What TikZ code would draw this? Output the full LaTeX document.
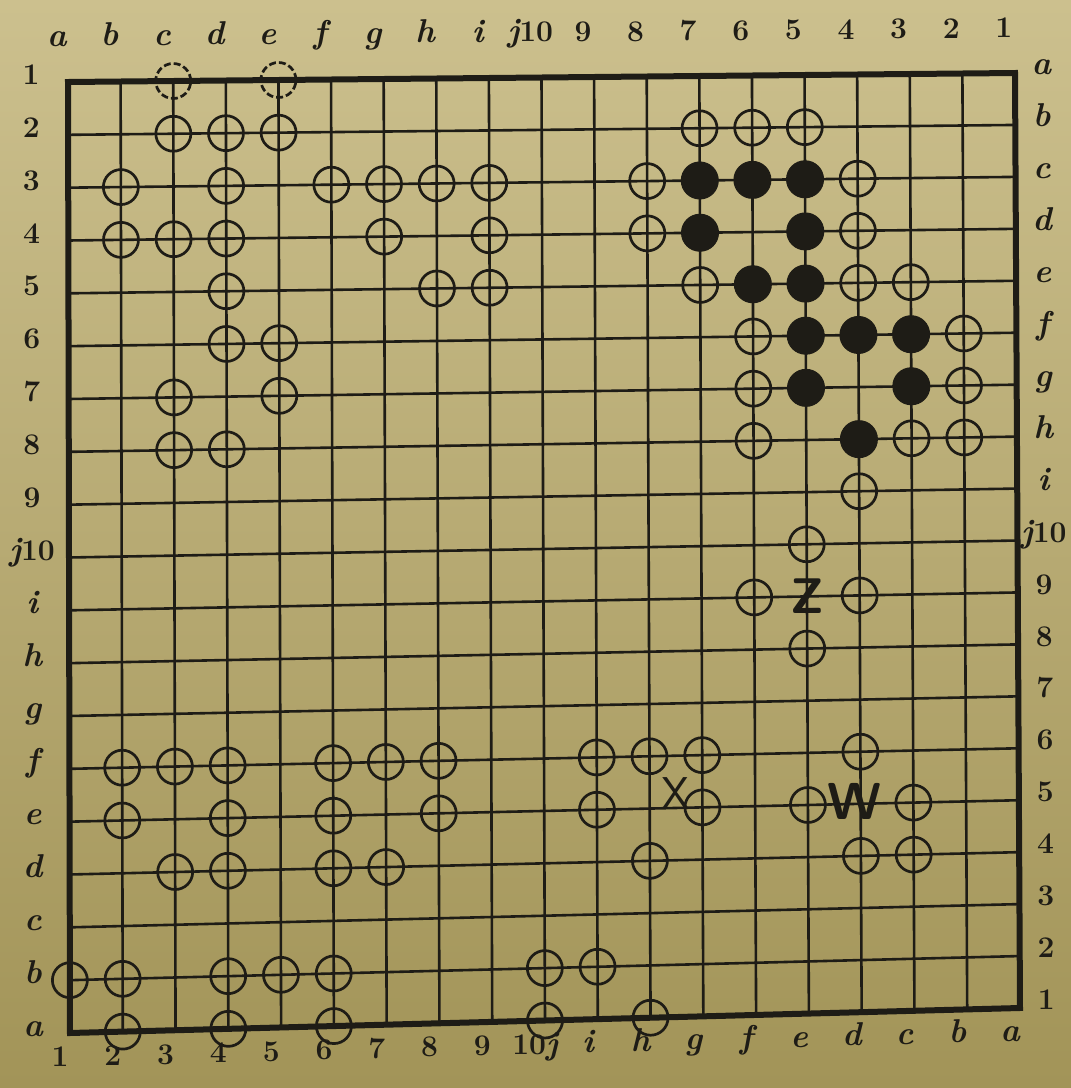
\documentclass[tikz,border=0pt]{standalone}
\usepackage{fontspec}
\definecolor{paperT}{RGB}{204,192,142}
\definecolor{paperB}{RGB}{162,148,88}
\definecolor{ink}{RGB}{30,28,22}
\newcommand{\gx}[2]{68+52.611*(#1)+0.111*(#2)+0.00926*(#1)*(#2)}
\newcommand{\gy}[2]{82-0.5*(#1)+52.833*(#2)-0.0494*(#1)*(#2)}
\newcommand{\lt}[1]{{\fontsize{33}{33}\selectfont\bfseries\itshape #1}}
\tikzset{
  gridline/.style={draw=ink, line width=2.6pt},
  boardedge/.style={draw=ink, line width=6pt, line join=miter},
  wstone/.style={circle, draw=ink, line width=2.7pt, minimum size=35pt, inner sep=0pt},
  bstone/.style={circle, fill=ink, draw=ink, line width=1pt, minimum size=37pt, inner sep=0pt},
  lab/.style={font=\fontsize{30}{30}\selectfont\bfseries, text=ink, inner sep=0pt, anchor=mid},
  bigsf/.style={font=\fontsize{46}{46}\selectfont\sffamily, text=ink, inner sep=0pt}
}
\begin{document}
\begin{tikzpicture}[x=1pt,y=-1pt]
\useasboundingbox (0,0) rectangle (1071,1088);
\shade[top color=paperT, bottom color=paperB] (0,0) rectangle (1071,1088);
% grid points
\foreach \i in {0,...,18}{
  \foreach \j in {0,...,18}{
    \coordinate (p-\i-\j) at ({\gx{\i}{\j}},{\gy{\i}{\j}});
  }
}
% grid lines
\foreach \j in {1,...,17} \draw[gridline] (p-0-\j) -- (p-18-\j);
\foreach \i in {1,...,17} \draw[gridline] (p-\i-0) -- (p-\i-18);
\draw[boardedge] (p-0-0) -- (p-18-0) -- (p-18-18) -- (p-0-18) -- cycle;
% labels top
\foreach \t [count=\k from 0] in {\lt{a},\lt{b},\lt{c},\lt{d},\lt{e},\lt{f},\lt{g},\lt{h},\lt{i},\lt{j}10,9,8,7,6,5,4,3,2,1}
  \node[lab] (top\k) at ({\gx{\k}{-0.72}-11},{\gy{\k}{-0.72}}) {\t};
% labels left
\foreach \t [count=\k from 0] in {1,2,3,4,5,6,7,8,9,\lt{j}10,\lt{i},\lt{h},\lt{g},\lt{f},\lt{e},\lt{d},\lt{c},\lt{b},\lt{a}}
  \node[lab] (left\k) at ({\gx{-0.7}{\k}},{\gy{-0.7}{\k}}) {\t};
% labels right
\foreach \t [count=\k from 0] in {\lt{a},\lt{b},\lt{c},\lt{d},\lt{e},\lt{f},\lt{g},\lt{h},\lt{i},\lt{j}10,9,8,7,6,5,4,3,2,1}
  \node[lab] (right\k) at ({\gx{18.5}{\k}},{\gy{18.5}{\k}}) {\t};
% labels bottom
\foreach \t [count=\k from 0] in {1,2,3,4,5,6,7,8,9,10\lt{j},\lt{i},\lt{h},\lt{g},\lt{f},\lt{e},\lt{d},\lt{c},\lt{b},\lt{a}}
  \node[lab] (bot\k) at ({\gx{\k}{18.6}-10},{\gy{\k}{18.6}}) {\t};
% white stones
\foreach \i/\j in {2/0,4/0}
  \node[wstone, dashed, dash pattern=on 7pt off 3pt] (w-\i-\j) at (p-\i-\j) {};
\foreach \i/\j in {2/1,3/1,4/1,12/1,13/1,14/1,
  1/2,3/2,5/2,6/2,7/2,8/2,11/2,15/2,
  1/3,2/3,3/3,6/3,8/3,11/3,15/3,
  3/4,7/4,8/4,12/4,15/4,16/4,
  3/5,4/5,13/5,17/5,
  2/6,4/6,13/6,17/6,
  2/7,3/7,13/7,16/7,17/7,
  15/8,14/9,13/10,15/10,14/11,
  1/13,2/13,3/13,5/13,6/13,7/13,10/13,11/13,12/13,15/13,
  1/14,3/14,5/14,7/14,10/14,12/14,14/14,16/14,
  2/15,3/15,5/15,6/15,11/15,15/15,16/15,
  0/17,1/17,3/17,4/17,5/17,9/17,10/17,
  1/18,3/18,5/18,9/18,11/18}
  \node[wstone] (w-\i-\j) at (p-\i-\j) {};
% black stones
\foreach \i/\j in {12/2,13/2,14/2,12/3,14/3,13/4,14/4,14/5,15/5,16/5,14/6,16/6,15/7}
  \node[bstone] (b-\i-\j) at (p-\i-\j) {};
% marks
\node[bigsf] (xmark) at ({\gx{11.5}{13.72}},{\gy{11.5}{13.72}}) {X};
\node[bigsf, font=\fontsize{50}{50}\selectfont\sffamily\bfseries] (zmark) at (p-14-10) {Z};
\node[bigsf, font=\fontsize{52}{52}\selectfont\sffamily\bfseries] (wmark) at ({\gx{14.88}{13.95}},{\gy{14.88}{13.95}}) {W};
\end{tikzpicture}
\end{document}
